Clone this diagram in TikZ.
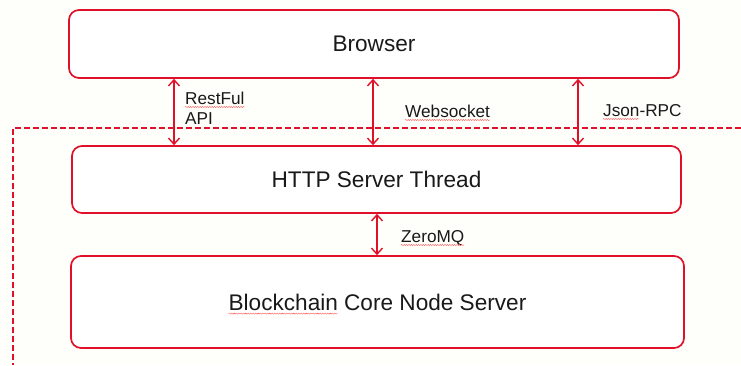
\documentclass[tikz,border=0pt]{standalone}
\usepackage{fontspec}
\setmainfont{Liberation Sans}
\usetikzlibrary{arrows.meta,decorations.pathmorphing}
\definecolor{cred}{RGB}{224,16,40}
\definecolor{ctext}{RGB}{25,25,25}
\definecolor{cbg}{RGB}{254,254,250}
\begin{document}
\begin{tikzpicture}[x=1pt,y=-1pt,
 box/.style={draw=cred, line width=1.7pt, rounded corners=10pt, fill=white, inner sep=0},
 link/.style={draw=cred, line width=1.4pt, {Straight Barb[length=6pt,width=11pt]}-{Straight Barb[length=6pt,width=11pt]}},
 lab/.style={font=\fontsize{17.2}{20}\selectfont, text=ctext, inner sep=0, anchor=base west},
 big/.style={font=\fontsize{22.6}{26}\selectfont, text=ctext, inner sep=0},
 spell/.style={draw=red!65, line width=0.4pt, decorate, decoration={snake, amplitude=0.6pt, segment length=2.4pt}},
 fence/.style={draw=cred, line width=1.5pt, dash pattern=on 6pt off 3pt}]
\fill[cbg] (0,0) rectangle (741,365);
\useasboundingbox (0,0) rectangle (741,365);
% dashed boundary
\coordinate (fr) at (741,128);
\coordinate (fc) at (13,128);
\coordinate (fb) at (13,365);
\draw[fence] (fr) -- (fc) -- (fb);
% boxes
\node[box, minimum width=610pt, minimum height=68pt] (browser) at (374,44) {};
\node[box, minimum width=609pt, minimum height=67pt] (http) at (376.5,179.5) {};
\node[box, minimum width=613pt, minimum height=92pt] (core) at (377.5,302) {};
\node[big] (tbrowser) at (browser.center) {Browser};
\node[big] (thttp) at (http.center) {HTTP Server Thread};
\node[big] (tcore) at (core.center) {Blockchain Core Node Server};
% links
\coordinate (xa) at (174,0);
\coordinate (xb) at (373,0);
\coordinate (xc) at (578,0);
\coordinate (xd) at (377,0);
\draw[link] (browser.south -| xa) -- (http.north -| xa);
\draw[link] (browser.south -| xb) -- (http.north -| xb);
\draw[link] (browser.south -| xc) -- (http.north -| xc);
\draw[link] (http.south -| xd) -- (core.north -| xd);
% labels
\node[lab] (rest) at (185,104) {RestFul};
\node[lab] (api) at (185,124) {API};
\node[lab] (ws) at (405,117) {Websocket};
\node[lab] (json) at (603,116) {Json-RPC};
\node[lab] (zmq) at (401,242) {ZeroMQ};
% spell-check underlines
\draw[spell] ([yshift=-3pt]rest.base west) -- ([yshift=-3pt]rest.base east);
\draw[spell] ([yshift=-3pt]ws.base west) -- ([yshift=-3pt]ws.base east);
\draw[spell] ([yshift=-3pt]json.base west) -- ++(36,0);
\draw[spell] ([yshift=-3pt]zmq.base west) -- ([yshift=-3pt]zmq.base east);
\draw[spell] ([yshift=-3.5pt]tcore.base west) -- ++(109,0);
\end{tikzpicture}
\end{document}
